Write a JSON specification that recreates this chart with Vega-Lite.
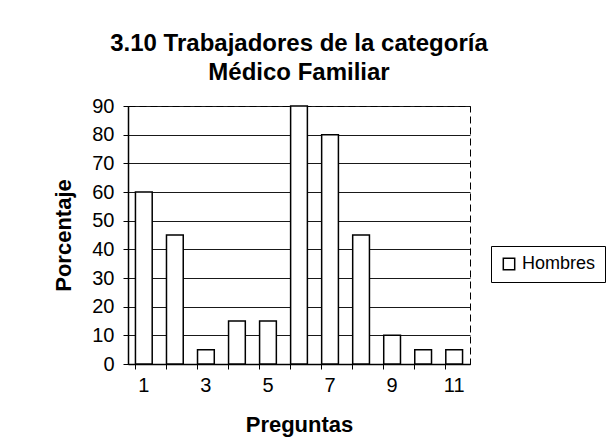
{
  "$schema": "https://vega.github.io/schema/vega-lite/v6.json",
  "autosize": {"type": "none"},
  "width": 342,
  "height": 258,
  "padding": {"left": 128, "top": 106, "right": 138, "bottom": 81},
  "background": "white",
  "title": {
    "text": ["3.10 Trabajadores de la categoría", "Médico Familiar"],
    "font": "Liberation Sans",
    "fontSize": 24,
    "fontWeight": "bold",
    "color": "black",
    "anchor": "middle",
    "frame": "group",
    "lineHeight": 29,
    "offset": 11
  },
  "data": {
    "values": [
      {"pregunta": 1, "porcentaje": 60, "serie": "Hombres"},
      {"pregunta": 2, "porcentaje": 45, "serie": "Hombres"},
      {"pregunta": 3, "porcentaje": 5, "serie": "Hombres"},
      {"pregunta": 4, "porcentaje": 15, "serie": "Hombres"},
      {"pregunta": 5, "porcentaje": 15, "serie": "Hombres"},
      {"pregunta": 6, "porcentaje": 90, "serie": "Hombres"},
      {"pregunta": 7, "porcentaje": 80, "serie": "Hombres"},
      {"pregunta": 8, "porcentaje": 45, "serie": "Hombres"},
      {"pregunta": 9, "porcentaje": 10, "serie": "Hombres"},
      {"pregunta": 10, "porcentaje": 5, "serie": "Hombres"},
      {"pregunta": 11, "porcentaje": 5, "serie": "Hombres"}
    ]
  },
  "mark": {"type": "bar", "stroke": "black", "strokeWidth": 1.5},
  "encoding": {
    "x": {
      "field": "pregunta",
      "type": "ordinal",
      "title": "Preguntas",
      "scale": {"paddingInner": 0.46, "paddingOuter": 0.24},
      "axis": {
        "labelAngle": 0,
        "labelExpr": "datum.value % 2 == 1 ? datum.label : ''",
        "bandPosition": 0,
        "labelFontSize": 20,
        "labelPadding": 6,
        "titleFontSize": 22,
        "titlePadding": 19
      }
    },
    "y": {
      "field": "porcentaje",
      "type": "quantitative",
      "title": "Porcentaje",
      "scale": {"domain": [0, 90]},
      "axis": {
        "values": [0, 10, 20, 30, 40, 50, 60, 70, 80, 90],
        "labelFontSize": 20,
        "labelPadding": 9,
        "titleFontSize": 22,
        "titlePadding": 16
      }
    },
    "fill": {
      "field": "serie",
      "type": "nominal",
      "scale": {"range": ["white"]},
      "legend": {
        "title": null,
        "orient": "none",
        "legendX": 363,
        "legendY": 140,
        "symbolType": "square",
        "symbolStrokeColor": "black",
        "symbolStrokeWidth": 1.5,
        "symbolSize": 130,
        "labelFontSize": 18,
        "labelFont": "Liberation Sans",
        "labelColor": "black",
        "strokeColor": "black",
        "padding": 9
      }
    }
  },
  "config": {
    "font": "Liberation Sans",
    "view": {"stroke": "black", "strokeDash": [7, 4], "strokeWidth": 1},
    "axis": {
      "domainColor": "black",
      "domainWidth": 1.5,
      "tickColor": "black",
      "tickSize": 5,
      "labelColor": "black",
      "labelFont": "Liberation Sans",
      "titleFont": "Liberation Sans",
      "titleFontWeight": "bold",
      "titleColor": "black",
      "gridColor": "black",
      "gridOpacity": 0.9
    },
    "axisX": {"grid": false},
    "axisY": {"grid": true}
  }
}
